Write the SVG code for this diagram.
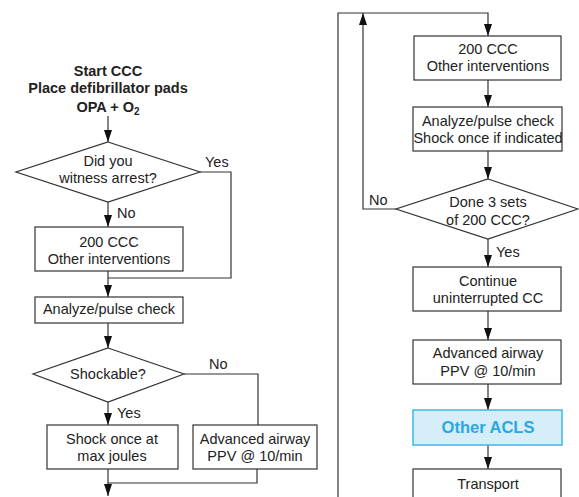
<svg xmlns="http://www.w3.org/2000/svg" width="579" height="497" viewBox="0 0 579 497">
<style>
text{font-family:"Liberation Sans",Arial,sans-serif;font-size:14.5px;fill:#222;text-anchor:middle}
.t{font-weight:bold}
.l{text-anchor:start}
.box{fill:#fff;stroke:#333;stroke-width:1.2}
.acls{fill:#d6eefa;stroke:#3bb9ea;stroke-width:1.5}
.acls-t{fill:#29a9e0;font-weight:bold;font-size:16.5px}
.c{fill:none;stroke:#333;stroke-width:1.2}
</style>
<defs>
<marker id="ah" markerUnits="userSpaceOnUse" markerWidth="12" markerHeight="8" refX="12" refY="4" orient="auto">
<path d="M0,0 L12,4 L0,8 z" fill="#111"/>
</marker>
</defs>
<g id="connectors">
<path class="c" d="M108,116 V142" marker-end="url(#ah)"/>
<path class="c" d="M108,202 V227" marker-end="url(#ah)"/>
<path class="c" d="M200,172 H231 V278 H108"/>
<path class="c" d="M108,271 V297" marker-end="url(#ah)"/>
<path class="c" d="M108,323 V348" marker-end="url(#ah)"/>
<path class="c" d="M108,402 V425" marker-end="url(#ah)"/>
<path class="c" d="M184,374 H258 V425"/>
<path class="c" d="M257,469 V483 H108"/>
<path class="c" d="M108,469 V496" marker-end="url(#ah)"/>
<path class="c" d="M338,497 V13 H488 V36" marker-end="url(#ah)"/>
<path class="c" d="M396,209 H363 V13" marker-end="url(#ah)"/>
<path class="c" d="M488,80 V107" marker-end="url(#ah)"/>
<path class="c" d="M488,151 V179" marker-end="url(#ah)"/>
<path class="c" d="M488,239 V267" marker-end="url(#ah)"/>
<path class="c" d="M488,311 V340" marker-end="url(#ah)"/>
<path class="c" d="M488,384 V410" marker-end="url(#ah)"/>
<path class="c" d="M488,445 V469" marker-end="url(#ah)"/>
<text class="l" x="205" y="167">Yes</text>
<text class="l" x="117" y="218">No</text>
<text class="l" x="209" y="369">No</text>
<text class="l" x="117" y="418">Yes</text>
<text class="l" x="369" y="205">No</text>
<text class="l" x="496" y="257">Yes</text>
</g>
<g id="start">
<text class="t" x="108" y="76">Start CCC</text>
<text class="t" x="108" y="93">Place defibrillator pads</text>
<text class="t" x="108" y="112">OPA + O<tspan font-size="10" dy="3">2</tspan></text>
</g>
<g id="witness">
<path class="box" d="M108,142 L200,172 L108,202 L16,172 z"/>
<text x="108" y="166">Did you</text>
<text x="108" y="183">witness arrest?</text>
</g>
<g id="ccc1">
<rect class="box" x="35" y="227" width="148" height="44"/>
<text x="109" y="247">200 CCC</text>
<text x="109" y="264">Other interventions</text>
</g>
<g id="analyze1">
<rect class="box" x="35" y="297" width="148" height="26"/>
<text x="109" y="314">Analyze/pulse check</text>
</g>
<g id="shockable">
<path class="box" d="M108,348 L184,374 L108,402 L33,374 z"/>
<text x="108" y="379">Shockable?</text>
</g>
<g id="shock">
<rect class="box" x="47" y="425" width="131" height="44"/>
<text x="112" y="444">Shock once at</text>
<text x="112" y="461">max joules</text>
</g>
<g id="airway1">
<rect class="box" x="193" y="425" width="124" height="44"/>
<text x="255" y="444">Advanced airway</text>
<text x="255" y="461">PPV @ 10/min</text>
</g>
<g id="ccc2">
<rect class="box" x="414" y="36" width="147" height="44"/>
<text x="488" y="54">200 CCC</text>
<text x="488" y="71">Other interventions</text>
</g>
<g id="analyze2">
<rect class="box" x="413" y="107" width="149" height="44"/>
<text x="488" y="126">Analyze/pulse check</text>
<text x="488" y="143">Shock once if indicated</text>
</g>
<g id="done3">
<path class="box" d="M488,179 L578,209 L488,239 L396,209 z"/>
<text x="488" y="207">Done 3 sets</text>
<text x="488" y="225">of 200 CCC?</text>
</g>
<g id="continue">
<rect class="box" x="413" y="267" width="148" height="44"/>
<text x="488" y="286">Continue</text>
<text x="488" y="303">uninterrupted CC</text>
</g>
<g id="airway2">
<rect class="box" x="413" y="340" width="148" height="44"/>
<text x="488" y="358">Advanced airway</text>
<text x="488" y="376">PPV @ 10/min</text>
</g>
<g id="acls">
<rect class="acls" x="413" y="410" width="149" height="35"/>
<text class="acls-t" x="488" y="433">Other ACLS</text>
</g>
<g id="transport">
<rect class="box" x="413" y="469" width="148" height="40"/>
<text x="488" y="489">Transport</text>
</g>
</svg>
